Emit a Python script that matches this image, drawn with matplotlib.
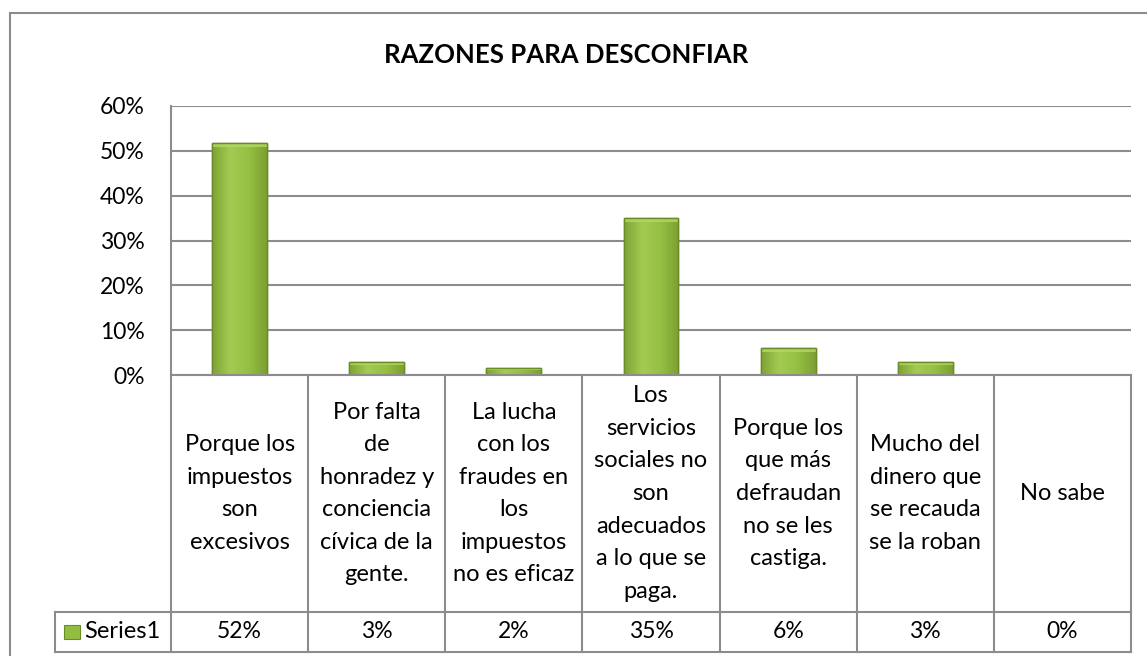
import numpy as np
import matplotlib
matplotlib.use("Agg")
from matplotlib import pyplot as plt
from matplotlib.patches import Rectangle

plt.rcParams['font.family'] = ['Lato', 'DejaVu Sans']

titulo = "RAZONES PARA DESCONFIAR"
categorias = ["Porque los\nimpuestos\nson\nexcesivos",
              "Por falta\nde\nhonradez y\nconciencia\ncívica de la\ngente.",
              "La lucha\ncon los\nfraudes en\nlos\nimpuestos\nno es eficaz",
              "Los\nservicios\nsociales no\nson\nadecuados\na lo que se\npaga.",
              "Porque los\nque más\ndefraudan\nno se les\ncastiga.",
              "Mucho del\ndinero que\nse recauda\nse la roban",
              "No sabe"]
valores = [0.517, 0.03, 0.016, 0.35, 0.06, 0.03, 0.0]
etiquetas = ["52%", "3%", "2%", "35%", "6%", "3%", "0%"]
serie = "Series1"
yticks = [0, 0.1, 0.2, 0.3, 0.4, 0.5, 0.6]

W, H = 1147, 656
fig = plt.figure(figsize=(W / 100, H / 100), dpi=100)
gris = '#8c8c8c'
fs = 17

# marco exterior
fig.patches.append(Rectangle((10 / W, -0.01), 1.2, (H - 13) / H + 0.01, transform=fig.transFigure,
                             fill=False, edgecolor=gris, lw=1.5))

# area del grafico (pixeles)
x0, x1 = 171, 1131
y_top, y_zero, y_row, y_bot = 106, 375, 612, 652
ax = fig.add_axes([x0 / W, (H - y_zero) / H, (x1 - x0) / W, (y_zero - y_top) / H])
n = len(categorias)
x = np.arange(n)
ax.set_ylim(0, 0.6)
ax.set_yticks(yticks)
ax.set_yticklabels(["{}%".format(int(round(t * 100))) for t in yticks], fontsize=16.5)
ax.tick_params(axis='y', length=0, pad=19)
ax.set_xticks([])
ax.grid(axis='y', color=gris, lw=1.5)
ax.set_axisbelow(True)
for s in ['top', 'right', 'bottom']:
    ax.spines[s].set_visible(False)
ax.spines['left'].set_color(gris)
ax.spines['left'].set_linewidth(1.5)

bars = ax.bar(x, valores, width=0.4, color='#8fb93e', edgecolor='#6a8c27', lw=1.0, zorder=3)
# degradado tipo Excel
grad = np.linspace(0, 1, 256).reshape(1, -1)
cmap = matplotlib.colors.LinearSegmentedColormap.from_list(
    'verde', ['#7ea235', '#a3cb52', '#95c043', '#7c9f33'])
for b in bars:
    if b.get_height() <= 0:
        continue
    bx, by, bw, bh = b.get_x(), b.get_y(), b.get_width(), b.get_height()
    im = ax.imshow(grad, extent=[bx, bx + bw, by, by + bh], aspect='auto',
                   cmap=cmap, zorder=3.5, interpolation='bicubic')
    im.set_clip_path(b)
    # bisel claro arriba
    bev = min(0.008, bh * 0.35)
    ax.add_patch(Rectangle((bx, by + bh - bev), bw, bev, facecolor='#b2d866', edgecolor='none',
                           alpha=0.8, zorder=3.8))
    ax.add_patch(Rectangle((bx, by), bw, bh, fill=False, edgecolor='#6a8c27', lw=1.0, zorder=4))
ax.set_xlim(-0.5, n - 0.5)
ax.set_ylim(0, 0.6)

# tabla de datos
leg_x = 55
tx = fig.add_axes([x0 / W, (H - y_bot) / H, (x1 - x0) / W, (y_bot - y_zero) / H])
tx.set_xlim(-0.5, n - 0.5)
tx.set_ylim(y_bot - y_zero, 0)
tx.axis('off')
col_w = (x1 - x0) / n
x_leg = -0.5 - (x0 - leg_x) / col_w
r1 = y_row - y_zero
r2 = y_bot - y_zero
kw = dict(color=gris, lw=1.5, clip_on=False, solid_capstyle='projecting')
for i in range(n + 1):
    tx.plot([i - 0.5, i - 0.5], [0, r2], **kw)
tx.plot([-0.5, n - 0.5], [0, 0], **kw)
tx.plot([x_leg, n - 0.5], [r1, r1], **kw)
tx.plot([x_leg, n - 0.5], [r2, r2], **kw)
tx.plot([x_leg, x_leg], [r1, r2], **kw)
for i in range(n):
    tx.text(i, r1 / 2, categorias[i], ha='center', va='center', fontsize=fs,
            linespacing=1.68, clip_on=False)
    tx.text(i, (r1 + r2) / 2, etiquetas[i], ha='center', va='center', fontsize=16.5)
tx.add_patch(Rectangle((x_leg + 9 / col_w, (r1 + r2) / 2 - 7), 16 / col_w, 14,
                       facecolor='#92be40', edgecolor='#6a8c27', lw=0.8, clip_on=False))
tx.text(x_leg + 29 / col_w, (r1 + r2) / 2, serie, ha='left', va='center', fontsize=fs)

fig.text(566 / W, (H - 55) / H, titulo, ha='center', va='center', fontsize=18.5, fontweight='bold')

fig.savefig("out.png", dpi=100)
